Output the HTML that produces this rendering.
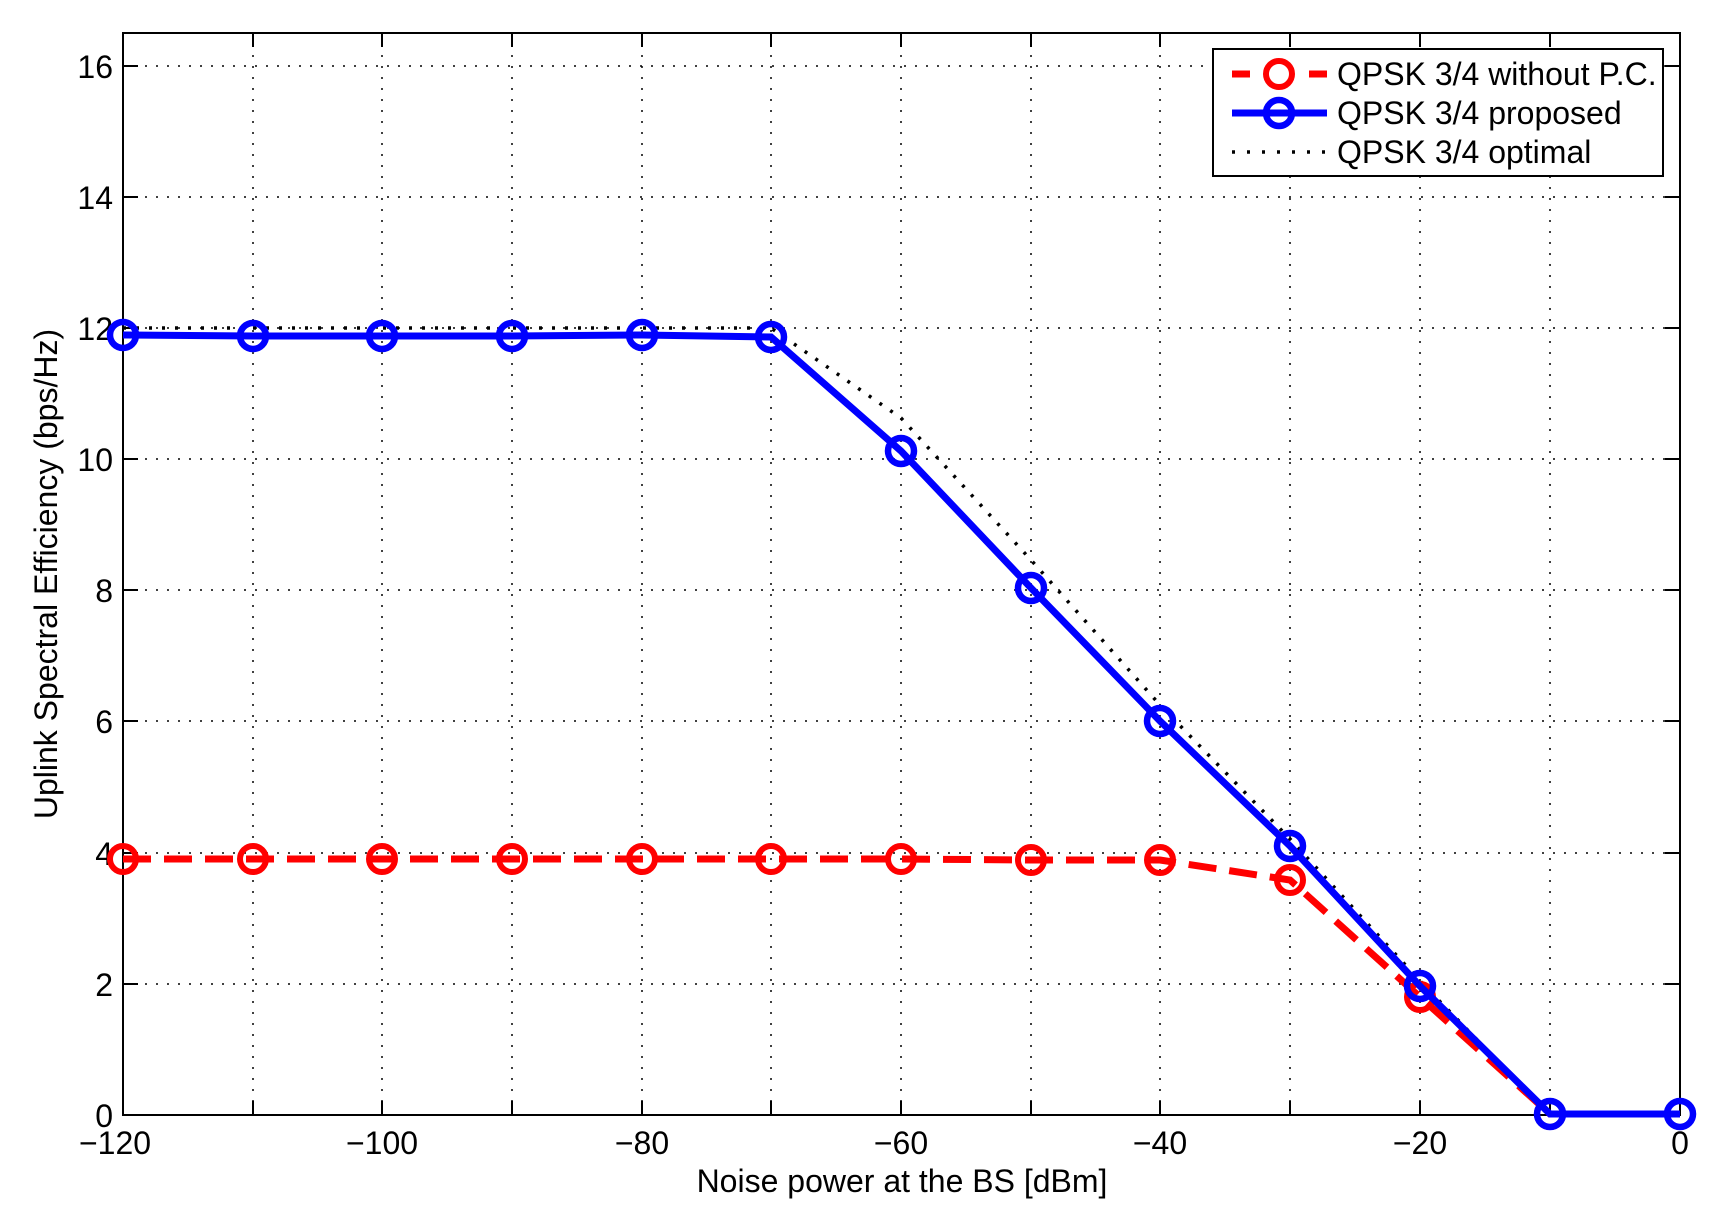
<!DOCTYPE html>
<html><head><style>body{margin:0;background:#fff}svg{display:block}text{font-family:"Liberation Sans",Arial,sans-serif;fill:#000}</style></head>
<body>
<svg width="1715" height="1217" viewBox="0 0 1715 1217" xmlns="http://www.w3.org/2000/svg">
<rect width="1715" height="1217" fill="#fff"/>
<g stroke="#000" stroke-width="1.5" stroke-dasharray="2,9" fill="none">
<path d="M253 33V1115M382 33V1115M512 33V1115M642 33V1115M771 33V1115M901 33V1115M1031 33V1115M1160 33V1115M1290 33V1115M1420 33V1115M1550 33V1115"/>
<path d="M123 984H1680M123 853H1680M123 721H1680M123 590H1680M123 459H1680M123 328H1680M123 197H1680M123 66H1680"/>
</g>
<g stroke="#000" stroke-width="2" fill="none">
<rect x="123" y="33" width="1557" height="1082"/>
<path d="M123 1115v-14M253 1115v-14M382 1115v-14M512 1115v-14M642 1115v-14M771 1115v-14M901 1115v-14M1031 1115v-14M1160 1115v-14M1290 1115v-14M1420 1115v-14M1550 1115v-14M1680 1115v-14"/>
<path d="M123 33v14M253 33v14M382 33v14M512 33v14M642 33v14M771 33v14M901 33v14M1031 33v14M1160 33v14M1290 33v14M1420 33v14M1550 33v14M1680 33v14"/>
<path d="M123 1115h15M123 984h15M123 853h15M123 721h15M123 590h15M123 459h15M123 328h15M123 197h15M123 66h15"/>
<path d="M1680 1115h-15M1680 984h-15M1680 853h-15M1680 721h-15M1680 590h-15M1680 459h-15M1680 328h-15M1680 197h-15M1680 66h-15"/>
</g>
<g font-size="32" text-anchor="end">
<text x="113" y="1127">0</text><text x="113" y="996">2</text><text x="113" y="865">4</text><text x="113" y="733">6</text><text x="113" y="602">8</text><text x="113" y="471">10</text><text x="113" y="340">12</text><text x="113" y="209">14</text><text x="113" y="78">16</text>
</g>
<g font-size="32" text-anchor="middle">
<text x="115" y="1154">−120</text><text x="382" y="1154">−100</text><text x="642" y="1154">−80</text><text x="901" y="1154">−60</text><text x="1160" y="1154">−40</text><text x="1420" y="1154">−20</text><text x="1680" y="1154">0</text>
<text x="902" y="1192">Noise power at the BS [dBm]</text>
<text transform="translate(57,574) rotate(-90)">Uplink Spectral Efficiency (bps/Hz)</text>
</g>
<polyline fill="none" stroke="#000" stroke-width="3.5" stroke-dasharray="3,10" points="123,328 771,328 901,418 1031,560 1160,705 1290,839 1420,981 1550,1115 1680,1115"/>
<polyline fill="none" stroke="#f00" stroke-width="7" stroke-dasharray="28,13" points="123,859 253,859 382,859 512,859 642,859 771,859 901,859 1031,860 1160,860 1290,880 1420,997 1550,1114 1680,1114"/>
<g fill="none" stroke="#f00" stroke-width="6">
<circle cx="123" cy="859" r="13"/><circle cx="253" cy="859" r="13"/><circle cx="382" cy="859" r="13"/><circle cx="512" cy="859" r="13"/><circle cx="642" cy="859" r="13"/><circle cx="771" cy="859" r="13"/><circle cx="901" cy="859" r="13"/><circle cx="1031" cy="860" r="13"/><circle cx="1160" cy="860" r="13"/><circle cx="1290" cy="880" r="13"/><circle cx="1420" cy="997" r="13"/><circle cx="1550" cy="1114" r="13"/>
</g>
<polyline fill="none" stroke="#00f" stroke-width="7" points="123,335 253,336 382,336 512,336 642,335 771,337 901,451 1031,588 1160,721 1290,846 1420,986 1550,1114 1680,1114"/>
<g fill="none" stroke="#00f" stroke-width="6.5">
<circle cx="123" cy="335" r="13"/><circle cx="253" cy="336" r="13"/><circle cx="382" cy="336" r="13"/><circle cx="512" cy="336" r="13"/><circle cx="642" cy="335" r="13"/><circle cx="771" cy="337" r="13"/><circle cx="901" cy="451" r="13"/><circle cx="1031" cy="588" r="13"/><circle cx="1160" cy="721" r="13"/><circle cx="1290" cy="846" r="13"/><circle cx="1420" cy="986" r="13"/><circle cx="1550" cy="1114" r="13"/><circle cx="1680" cy="1114" r="13"/>
</g>
<rect x="1213" y="49" width="450" height="127" fill="#fff" stroke="#000" stroke-width="2"/>
<line x1="1232" y1="74" x2="1327" y2="74" stroke="#f00" stroke-width="7" stroke-dasharray="18,59"/>
<circle cx="1279" cy="74" r="13" fill="none" stroke="#f00" stroke-width="6"/>
<line x1="1232" y1="113" x2="1327" y2="113" stroke="#00f" stroke-width="7"/>
<circle cx="1279" cy="113" r="13" fill="none" stroke="#00f" stroke-width="6.5"/>
<line x1="1232" y1="152" x2="1327" y2="152" stroke="#000" stroke-width="3.5" stroke-dasharray="3,12"/>
<g font-size="32">
<text x="1337" y="85">QPSK 3/4 without P.C.</text>
<text x="1337" y="124">QPSK 3/4 proposed</text>
<text x="1337" y="163">QPSK 3/4 optimal</text>
</g>
</svg>
</body></html>
